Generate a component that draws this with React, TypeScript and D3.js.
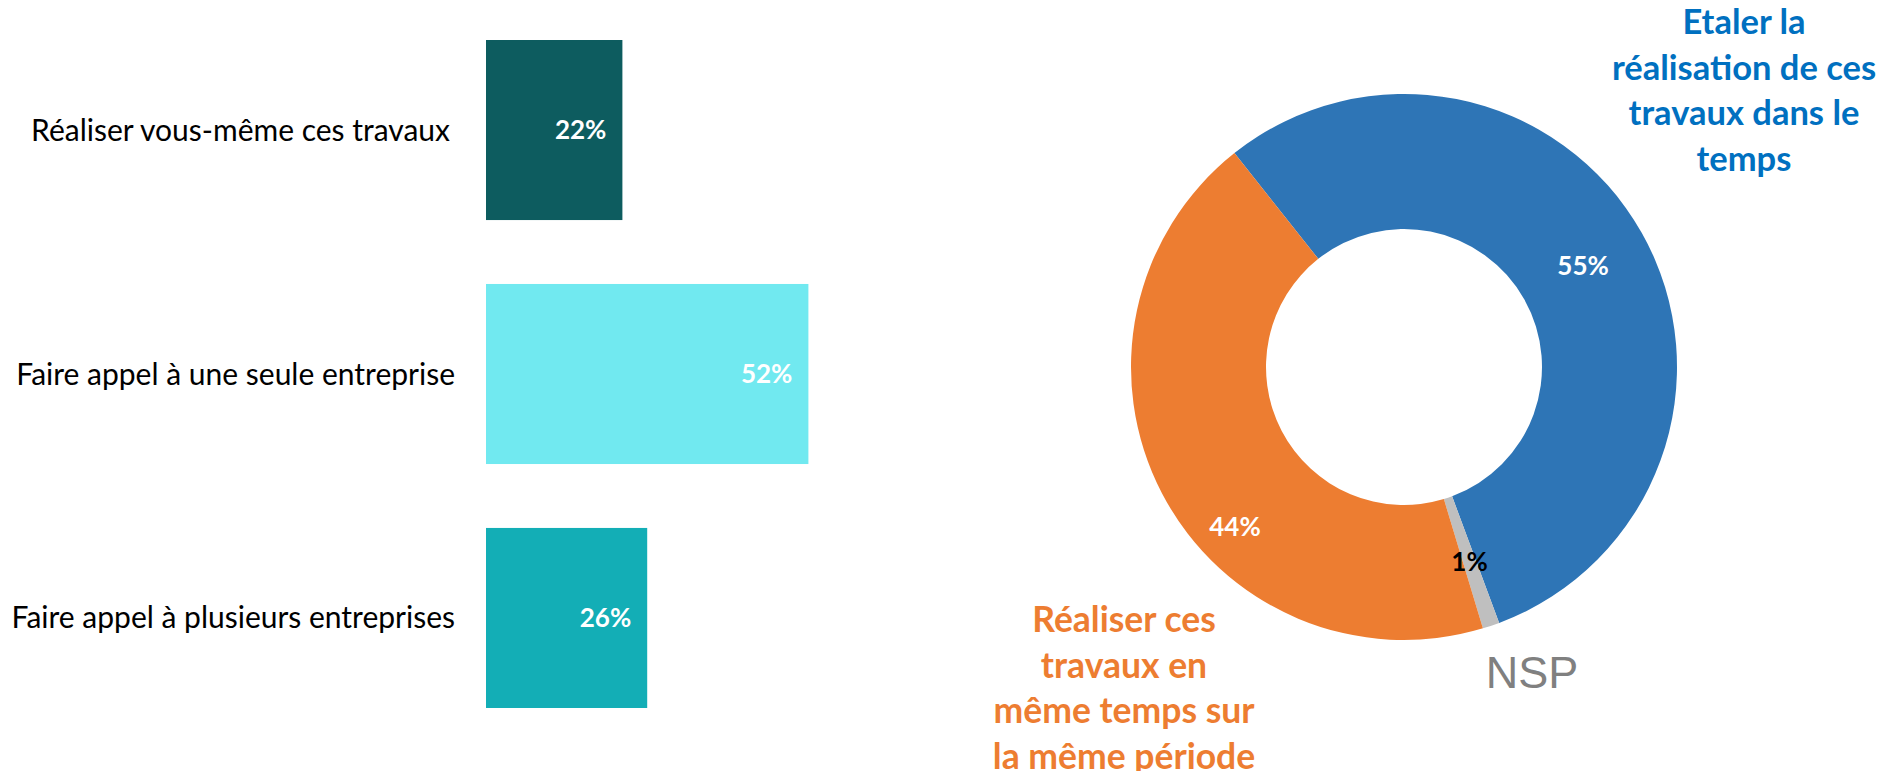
import React, { useEffect, useRef } from 'react';
import * as d3 from 'd3';

// bar chart data
const barCategories = [
  'Réaliser vous-même ces travaux',
  'Faire appel à une seule entreprise',
  'Faire appel à plusieurs entreprises',
];
const barValues = [22, 52, 26];
const barColors = ['#0D5C5F', '#71E9F0', '#13AEB6'];

// donut data
const donutCategories = ['Etaler la réalisation de ces travaux dans le temps', 'NSP', 'Réaliser ces travaux en même temps sur la même période'];
const donutValues = [55, 1, 44];
const donutColors = ['#2E75B6', '#BFBFBF', '#ED7D31'];
const donutLabelColors = ['#FFFFFF', '#000000', '#FFFFFF'];

const W = 1895;
const H = 771;
const FONT = 'Lato, "Open Sans", sans-serif';

const App = () => {
  const ref = useRef<SVGSVGElement | null>(null);

  useEffect(() => {
    if (!ref.current) return;
    const svg = d3.select(ref.current);
    svg.selectAll('*').remove();

    // ---- bars
    const x = d3.scaleLinear().domain([0, 100]).range([486, 1106]);
    const y = d3.scaleBand<string>().domain(barCategories).range([40, 708]).paddingInner(0.262);

    const bars = svg.append('g');
    bars.selectAll('rect').data(barCategories).join('rect')
      .attr('x', x(0))
      .attr('y', d => y(d)!)
      .attr('width', (d, i) => x(barValues[i]) - x(0))
      .attr('height', y.bandwidth())
      .attr('fill', (d, i) => barColors[i]);

    bars.selectAll('text.cat').data(barCategories).join('text')
      .attr('class', 'cat')
      .attr('x', (d, i) => (i === 0 ? 450 : 455))
      .attr('y', d => y(d)! + y.bandwidth() / 2)
      .attr('dy', '0.35em')
      .attr('text-anchor', 'end')
      .style('font-family', FONT)
      .style('font-size', '30px')
      .attr('fill', '#000')
      .text(d => d);

    bars.selectAll('text.val').data(barCategories).join('text')
      .attr('class', 'val')
      .attr('x', (d, i) => x(barValues[i]) - 16)
      .attr('y', d => y(d)! + y.bandwidth() / 2)
      .attr('dy', '0.35em')
      .attr('text-anchor', 'end')
      .style('font-family', FONT)
      .style('font-size', '26px')
      .style('font-weight', 700)
      .attr('fill', '#fff')
      .text((d, i) => `${barValues[i]}%`);

    // ---- donut
    const cx = 1404, cy = 367, rOuter = 273, rInner = 138;
    const start = -38.4 * Math.PI / 180;
    const pie = d3.pie<number>().sort(null).value(d => d).startAngle(start).endAngle(start + 2 * Math.PI);
    const arcs = pie(donutValues);
    const arc = d3.arc<d3.PieArcDatum<number>>().innerRadius(rInner).outerRadius(rOuter);

    const g = svg.append('g').attr('transform', `translate(${cx},${cy})`);
    g.selectAll('path').data(arcs).join('path')
      .attr('d', arc)
      .attr('fill', (d, i) => donutColors[i]);

    // excel pushed the orange label towards the lower left
    const labelPos = (d: d3.PieArcDatum<number>, i: number) => {
      if (i === 2) {
        const a = 226.5 * Math.PI / 180, r = 233;
        return [Math.sin(a) * r, -Math.cos(a) * r];
      }
      return arc.centroid(d);
    };

    g.selectAll('text').data(arcs).join('text')
      .attr('x', (d, i) => labelPos(d, i)[0])
      .attr('y', (d, i) => labelPos(d, i)[1])
      .attr('dy', '0.35em')
      .attr('text-anchor', 'middle')
      .style('font-family', FONT)
      .style('font-size', '26px')
      .style('font-weight', 700)
      .attr('fill', (d, i) => donutLabelColors[i])
      .text(d => `${d.data}%`);

    // category call-outs
    const callout = (lines: string[], x0: number, y0: number, color: string, size: number) => {
      const t = svg.append('text')
        .attr('text-anchor', 'middle')
        .style('font-family', FONT)
        .style('font-size', `${size}px`)
        .style('font-weight', 700)
        .attr('fill', color);
      lines.forEach((l, i) => t.append('tspan').attr('x', x0).attr('y', y0 + i * 45.5).attr('dy', '0.35em').text(l));
    };
    callout(['Etaler la', 'réalisation de ces', 'travaux dans le', 'temps'], 1744, 22, '#0070C0', 34.5);
    callout(['Réaliser ces', 'travaux en', 'même temps sur', 'la même période'], 1124, 620, '#ED7D31', 35.5);

    svg.append('text')
      .attr('x', 1532)
      .attr('y', 672)
      .attr('dy', '0.35em')
      .attr('text-anchor', 'middle')
      .style('font-family', '"Liberation Sans", Arial, sans-serif')
      .style('font-size', '45px')
      .attr('fill', '#808080')
      .text(donutCategories[1]);
  }, []);

  return (
    <svg ref={ref} width={W} height={H} style={{ position: 'absolute', left: 0, top: 0, background: '#fff' }} />
  );
};

export default App;
